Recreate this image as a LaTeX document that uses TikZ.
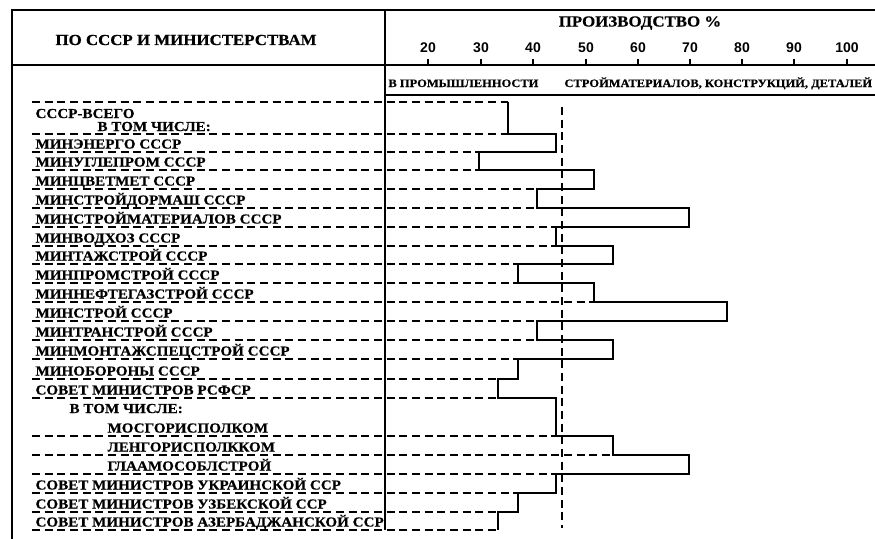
\documentclass[tikz,border=0pt]{standalone}
\usepackage{fontspec}
\newfontfamily\chartfont[FakeStretch=1.1,FakeBold=0.4]{Liberation Serif}
\newfontfamily\numfont{Liberation Sans}

\tikzset{every picture/.style={line width=0.75pt}}
\tikzset{
  rowline/.style={line width=1pt,dash pattern=on 6pt off 3.5pt},
  rowlabel/.style={anchor=base west,inner sep=0pt,font=\chartfont\bfseries\fontsize{10.3}{12}\selectfont},
  headlabel/.style={anchor=base,inner sep=0pt,font=\chartfont\bfseries\fontsize{11.5}{13}\selectfont},
  sublabel/.style={anchor=base west,inner sep=0pt,font=\chartfont\bfseries\fontsize{8.5}{10}\selectfont},
  ticklabel/.style={anchor=base,inner sep=0pt,font=\numfont\bfseries\fontsize{10.5}{12}\selectfont}
}

\begin{document}
\begin{tikzpicture}[x=0.75pt,y=0.75pt,yscale=-1,xscale=1]
\useasboundingbox (0,0) rectangle (875,539);

%Frame
\draw [line width=1.1pt]   (12,539) -- (12,10) -- (875,10) ;
\draw [line width=1.1pt]   (12,65) -- (875,65) ;
\draw [line width=1.1pt]   (385,95) -- (875,95) ;
\draw [line width=1.1pt]   (385,10) -- (385,530) ;

%Ticks
\draw [line width=1pt]   (428,59) -- (428,65) ;
\draw [line width=1pt]   (481,59) -- (481,65) ;
\draw [line width=1pt]   (533,59) -- (533,65) ;
\draw [line width=1pt]   (586,59) -- (586,65) ;
\draw [line width=1pt]   (638,59) -- (638,65) ;
\draw [line width=1pt]   (690,59) -- (690,65) ;
\draw [line width=1pt]   (742,59) -- (742,65) ;
\draw [line width=1pt]   (794,59) -- (794,65) ;
\draw [line width=1pt]   (847,59) -- (847,65) ;

%Dashed Lines
\draw [rowline]   (32,102) -- (508,102) ;
\draw [rowline]   (32,134) -- (508,134) ;
\draw [rowline]   (32,152) -- (479,152) ;
\draw [rowline]   (32,170) -- (479,170) ;
\draw [rowline]   (32,189) -- (537,189) ;
\draw [rowline]   (32,208) -- (537,208) ;
\draw [rowline]   (32,227) -- (556,227) ;
\draw [rowline]   (32,246) -- (556,246) ;
\draw [rowline]   (32,264) -- (518,264) ;
\draw [rowline]   (32,283) -- (518,283) ;
\draw [rowline]   (32,302) -- (594,302) ;
\draw [rowline]   (32,321) -- (537,321) ;
\draw [rowline]   (32,340) -- (537,340) ;
\draw [rowline]   (32,359) -- (518,359) ;
\draw [rowline]   (32,379) -- (498,379) ;
\draw [rowline]   (32,398) -- (498,398) ;
\draw [rowline]   (32,436) -- (556,436) ;
\draw [rowline]   (32,455) -- (613,455) ;
\draw [rowline]   (32,474) -- (556,474) ;
\draw [rowline]   (32,493) -- (518,493) ;
\draw [rowline]   (32,512) -- (498,512) ;
\draw [rowline]   (32,530) -- (498,530) ;
%Average Line
\draw [rowline]   (562,107) -- (562,528) ;

%Step Outline
\draw [line width=1.1pt]   (508,102) -- (508,134) -- (556,134) -- (556,152) -- (479,152) -- (479,170) -- (594,170) -- (594,189) -- (537,189) -- (537,208) -- (689,208) -- (689,227) -- (556,227) -- (556,246) -- (613,246) -- (613,264) -- (518,264) -- (518,283) -- (594,283) -- (594,302) -- (727,302) -- (727,321) -- (537,321) -- (537,340) -- (613,340) -- (613,359) -- (518,359) -- (518,379) -- (498,379) -- (498,398) -- (556,398) -- (556,436) -- (613,436) -- (613,455) -- (689,455) -- (689,474) -- (556,474) -- (556,493) -- (518,493) -- (518,512) -- (498,512) -- (498,530) ;

% Text Node
\node [headlabel] (ministries) at (186,45) {ПО СССР И МИНИСТЕРСТВАМ};
% Text Node
\node [headlabel] (output) at (640,26.5) {ПРОИЗВОДСТВО \%};
% Text Node
\node [sublabel] (industry) at (388,87) {В ПРОМЫШЛЕННОСТИ};
% Text Node
\node [sublabel] (materials) at (564,87) {СТРОЙМАТЕРИАЛОВ, КОНСТРУКЦИЙ, ДЕТАЛЕЙ};
% Text Node
\node [ticklabel] (t20) at (428,52) {20};
\node [ticklabel] (t30) at (481,52) {30};
\node [ticklabel] (t40) at (533,52) {40};
\node [ticklabel] (t50) at (586,52) {50};
\node [ticklabel] (t60) at (638,52) {60};
\node [ticklabel] (t70) at (690,52) {70};
\node [ticklabel] (t80) at (742,52) {80};
\node [ticklabel] (t90) at (794,52) {90};
\node [ticklabel] (t100) at (847,52) {100};

% Text Node
\node [rowlabel] (ussr) at (35,118) {СССР-ВСЕГО};
\node [rowlabel] (incl1) at (97,131) {В ТОМ ЧИСЛЕ:};
\node [rowlabel] (energo) at (35,148.5) {МИНЭНЕРГО СССР};
\node [rowlabel] (ugleprom) at (35,166.5) {МИНУГЛЕПРОМ СССР};
\node [rowlabel] (tsvetmet) at (35,185.5) {МИНЦВЕТМЕТ СССР};
\node [rowlabel] (dormash) at (35,204.5) {МИНСТРОЙДОРМАШ СССР};
\node [rowlabel] (strmat) at (35,223.5) {МИНСТРОЙМАТЕРИАЛОВ СССР};
\node [rowlabel] (vodkhoz) at (35,242.5) {МИНВОДХОЗ СССР};
\node [rowlabel] (tazh) at (35,260.5) {МИНТАЖСТРОЙ СССР};
\node [rowlabel] (promstroy) at (35,279.5) {МИНПРОМСТРОЙ СССР};
\node [rowlabel] (neftegaz) at (35,298.5) {МИННЕФТЕГАЗСТРОЙ СССР};
\node [rowlabel] (stroy) at (35,317.5) {МИНСТРОЙ СССР};
\node [rowlabel] (transstroy) at (35,336.5) {МИНТРАНСТРОЙ СССР};
\node [rowlabel] (montazh) at (35,355.5) {МИНМОНТАЖСПЕЦСТРОЙ СССР};
\node [rowlabel] (oborony) at (35,375.5) {МИНОБОРОНЫ СССР};
\node [rowlabel] (rsfsr) at (35,394.5) {СОВЕТ МИНИСТРОВ РСФСР};
\node [rowlabel] (incl2) at (69,413) {В ТОМ ЧИСЛЕ:};
\node [rowlabel] (mosgor) at (107,432.5) {МОСГОРИСПОЛКОМ};
\node [rowlabel] (lengor) at (107,451.5) {ЛЕНГОРИСПОЛККОМ};
\node [rowlabel] (mosobl) at (107,470.5) {ГЛААМОСОБЛСТРОЙ};
\node [rowlabel] (ukr) at (35,489.5) {СОВЕТ МИНИСТРОВ УКРАИНСКОЙ ССР};
\node [rowlabel] (uzb) at (35,508.5) {СОВЕТ МИНИСТРОВ УЗБЕКСКОЙ ССР};
\node [rowlabel] (azer) at (35,526.5) {СОВЕТ МИНИСТРОВ АЗЕРБАДЖАНСКОЙ ССР};

\end{tikzpicture}
\end{document}
